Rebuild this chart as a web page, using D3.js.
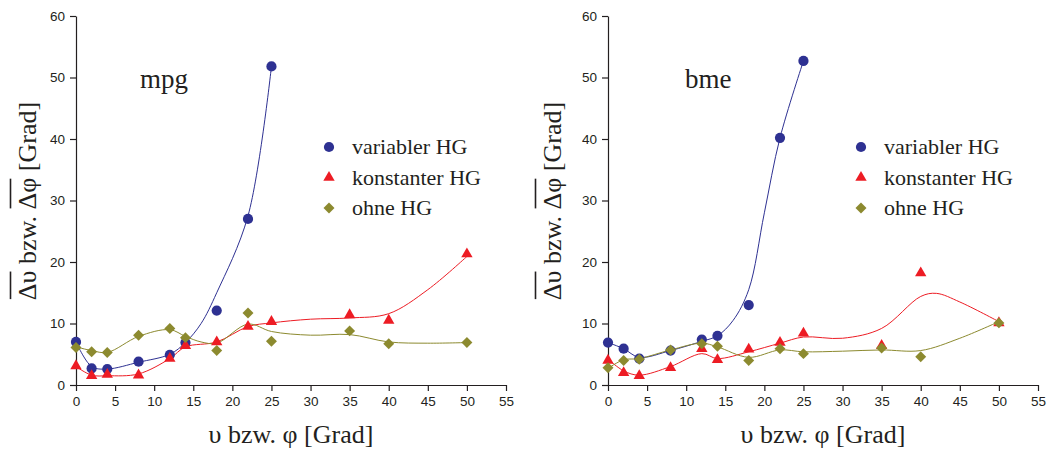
<!DOCTYPE html>
<html>
<head>
<meta charset="utf-8">
<script src="https://cdn.jsdelivr.net/npm/d3@7"></script>
<style>
  body { margin: 0; background: #fff; }
  svg { display: block; }
</style>
</head>
<body>
<div id="chart"></div>
<script>
// measured angles (x) and mean errors per series
var xVals = [0, 2, 4, 8, 12, 14, 18, 22, 25, 35, 40, 50];
var xTicks = [0, 5, 10, 15, 20, 25, 30, 35, 40, 45, 50, 55];
var yTicks = [0, 10, 20, 30, 40, 50, 60];

var mpgVariabel = [7.0, 2.7, 2.6, 3.8, 4.9, 6.9, 12.1, 27.0, 51.8];
var mpgKonstant = [3.1, 1.5, 1.7, 1.6, 4.3, 6.4, 7.0, 9.5, 10.3, 11.4, 10.5, 21.3];
var mpgOhne     = [6.1, 5.4, 5.3, 8.1, 9.2, 7.7, 5.6, 11.7, 7.1, 8.8, 6.7, 6.9];

var bmeVariabel = [6.9, 5.9, 4.3, 5.6, 7.4, 8.0, 13.0, 40.2, 52.7];
var bmeKonstant = [4.0, 2.0, 1.5, 2.8, 5.9, 4.1, 5.8, 6.9, 8.4, 6.4, 18.2, 10.1];
var bmeOhne     = [2.8, 4.0, 4.2, 5.7, 6.7, 6.3, 4.0, 5.9, 5.1, 6.0, 4.6, 10.1];

// smoothed fit curves, knots
var mpgVariabelFitX = [0, 2, 4, 8, 12, 14, 16, 18, 22, 25];
var mpgVariabelFitY = [7.0, 3.0, 2.6, 3.7, 5.0, 6.9, 10.0, 15.0, 27.5, 51.8];
var mpgKonstantFitX = [0, 2, 4, 8, 12, 14, 18, 22, 25, 30, 35, 40, 45, 50];
var mpgKonstantFitY = [3.0, 1.6, 1.5, 1.8, 4.3, 6.2, 7.0, 9.5, 10.1, 10.7, 10.9, 11.6, 15.5, 20.9];
var mpgOhneFitX = [0, 2, 4, 8, 12, 14, 16, 18, 22, 25, 30, 35, 40, 45, 50];
var mpgOhneFitY = [6.2, 5.6, 5.3, 7.9, 9.0, 7.9, 7.0, 6.8, 9.9, 8.7, 8.1, 8.2, 7.0, 6.8, 6.9];

var bmeVariabelFitX = [0, 2, 4, 8, 12, 14, 16, 18, 20, 22, 25];
var bmeVariabelFitY = [6.9, 5.9, 4.5, 5.6, 7.1, 8.0, 10.5, 15.5, 28.0, 40.2, 52.7];
var bmeKonstantFitX = [0, 2, 4, 8, 12, 14, 18, 22, 25, 30, 35, 40, 42, 45, 50];
var bmeKonstantFitY = [4.2, 2.3, 1.6, 3.0, 5.1, 4.3, 5.4, 6.8, 7.8, 7.6, 9.2, 14.4, 14.9, 13.5, 10.3];
var bmeOhneFitX = [0, 2, 4, 8, 12, 14, 18, 22, 25, 30, 35, 40, 45, 50];
var bmeOhneFitY = [2.7, 4.1, 4.3, 5.7, 6.8, 6.2, 4.5, 5.7, 5.4, 5.5, 5.7, 5.6, 7.6, 10.3];

var seriesNames = ["variabler HG", "konstanter HG", "ohne HG"];
var colors = ["#2e3192", "#ed1c24", "#8c8a2f"];
var ink = "#231f20";

var width = 1048, height = 451;

var svg = d3.select("#chart").append("svg")
    .attr("width", width)
    .attr("height", height);

var symbols = [
    d3.symbol().type(d3.symbolCircle).size(82),
    d3.symbol().type(d3.symbolTriangle).size(56),
    d3.symbol().type(d3.symbolSquare).size(60)
];
var symbolRotate = [0, 0, 45];

function pairs(xs, ys) {
    return ys.map(function (v, i) { return [xs[i], v]; });
}

function drawPanel(left, titleX, label, labelX, values, fitsX, fitsY) {

    var x = d3.scaleLinear().domain([0, 55]).range([left, left + 430]);
    var y = d3.scaleLinear().domain([0, 60]).range([385, 16]);

    var g = svg.append("g");

    // axes
    var xAxis = d3.axisBottom(x).tickValues(xTicks).tickSize(6).tickSizeOuter(0).tickPadding(5);
    var yAxis = d3.axisLeft(y).tickValues(yTicks).tickSize(6).tickSizeOuter(0).tickPadding(5);

    var gx = g.append("g").attr("transform", "translate(0,385)").call(xAxis);
    var gy = g.append("g").attr("transform", "translate(" + left + ",0)").call(yAxis);

    [gx, gy].forEach(function (a) {
        a.selectAll("path, line").attr("stroke", ink).attr("stroke-width", 1.2);
        a.selectAll("text")
            .attr("fill", ink)
            .style("font-family", "'Liberation Sans', Arial, sans-serif")
            .style("font-size", "13.5px");
    });

    // fit curves
    var line = d3.line()
        .x(function (d) { return x(d[0]); })
        .y(function (d) { return y(d[1]); })
        .curve(d3.curveCatmullRom.alpha(0.5));

    values.forEach(function (vals, s) {
        g.append("path")
            .datum(pairs(fitsX[s], fitsY[s]))
            .attr("d", line)
            .attr("fill", "none")
            .attr("stroke", colors[s])
            .attr("stroke-width", 1);
    });

    // markers
    values.forEach(function (vals, s) {
        g.append("g").selectAll("path")
            .data(pairs(xVals, vals))
            .enter().append("path")
            .attr("d", symbols[s])
            .attr("fill", colors[s])
            .attr("transform", function (d) {
                return "translate(" + x(d[0]) + "," + y(d[1]) + ") rotate(" + symbolRotate[s] + ")";
            });
    });

    // panel label
    g.append("text")
        .attr("x", left + labelX)
        .attr("y", 88)
        .attr("fill", ink)
        .style("font-family", "'Liberation Serif', 'Times New Roman', serif")
        .style("font-size", "27px")
        .text(label);

    // legend
    var legend = g.append("g");
    seriesNames.forEach(function (name, s) {
        var ly = 147 + s * 30.5;
        legend.append("path")
            .attr("d", symbols[s])
            .attr("fill", colors[s])
            .attr("transform", "translate(" + (left + 253) + "," + ly + ") rotate(" + symbolRotate[s] + ")");
        legend.append("text")
            .attr("x", left + 276)
            .attr("y", ly + 7)
            .attr("fill", ink)
            .style("font-family", "'Liberation Serif', 'Times New Roman', serif")
            .style("font-size", "22px")
            .text(name);
    });

    // x axis title
    g.append("text")
        .attr("x", left + 215)
        .attr("y", 443)
        .attr("text-anchor", "middle")
        .attr("fill", ink)
        .style("font-family", "'Liberation Serif', 'Times New Roman', serif")
        .style("font-size", "26px")
        .text("\u03c5 bzw. \u03c6 [Grad]");

    // y axis title with overlines over the deltas
    var yt = g.append("g").attr("transform", "translate(" + titleX + ",201) rotate(-90)");
    var t = yt.append("text")
        .attr("x", 0)
        .attr("y", 0)
        .attr("text-anchor", "middle")
        .attr("fill", ink)
        .style("font-family", "'Liberation Serif', 'Times New Roman', serif")
        .style("font-size", "26px")
        .text("\u0394\u03c5 bzw. \u0394\u03c6 [Grad]");

    var node = t.node();
    [[0, 1], [8, 9]].forEach(function (r) {
        var x0 = node.getStartPositionOfChar(r[0]).x;
        var x1 = node.getEndPositionOfChar(r[1]).x;
        yt.append("line")
            .attr("x1", x0 + 1).attr("x2", x1 - 1)
            .attr("y1", -25.5).attr("y2", -25.5)
            .attr("stroke", ink)
            .attr("stroke-width", 1.6);
    });
}

drawPanel(76, 36, "mpg", 64,
    [mpgVariabel, mpgKonstant, mpgOhne],
    [mpgVariabelFitX, mpgKonstantFitX, mpgOhneFitX],
    [mpgVariabelFitY, mpgKonstantFitY, mpgOhneFitY]);

drawPanel(608, 561, "bme", 77,
    [bmeVariabel, bmeKonstant, bmeOhne],
    [bmeVariabelFitX, bmeKonstantFitX, bmeOhneFitX],
    [bmeVariabelFitY, bmeKonstantFitY, bmeOhneFitY]);
</script>
</body>
</html>
